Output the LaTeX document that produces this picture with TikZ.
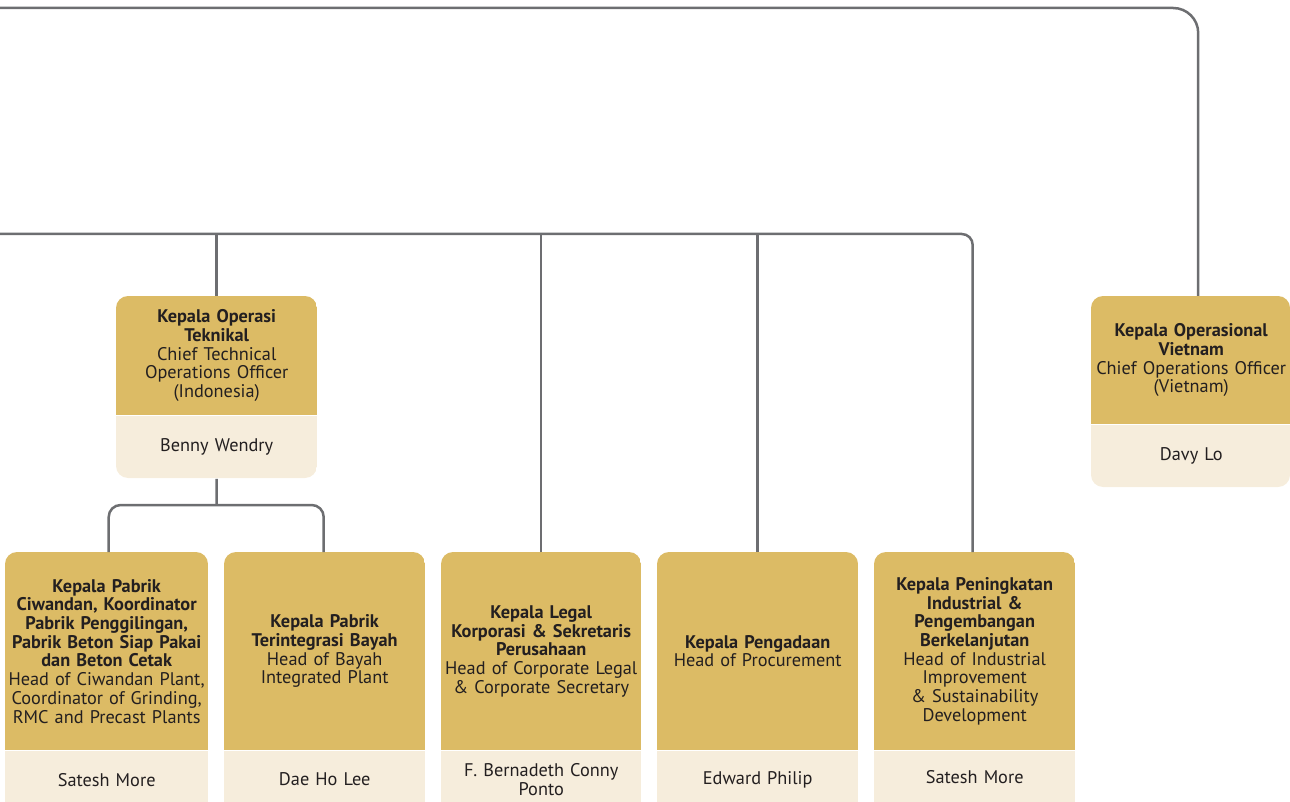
\documentclass[tikz,border=0pt]{standalone}
\usepackage{fontspec}
\setmainfont{PT Sans}
\usetikzlibrary{positioning}
\definecolor{gold}{HTML}{DCBB65}
\definecolor{cream}{HTML}{F6EDDC}
\definecolor{ink}{HTML}{231F20}
\definecolor{wire}{HTML}{6D6E71}
\tikzset{
  head/.style={anchor=north west, fill=gold, text=ink, align=center,
    text width=198pt, inner xsep=1pt, inner ysep=0pt, minimum width=201pt,
    font=\fontsize{18.3}{18.7}\selectfont},
  nameplate/.style={fill=cream, text=ink, align=center,
    text width=198pt, inner xsep=1pt, inner ysep=0pt, minimum width=201pt,
    font=\fontsize{18.3}{18.7}\selectfont},
  link/.style={draw=wire, line width=2.5pt},
}
\begin{document}
\begin{tikzpicture}[x=1pt, y=-1pt]
    \useasboundingbox (0,0) rectangle (1290,802);
    % boxes
    \begin{scope}
      \clip[rounded corners=12pt] (116,296) rectangle ++(201,182);
      \node[head, minimum height=119pt] (cto) at (116,296)
        {{\bfseries Kepala Operasi\\Teknikal}\\Chief Technical\\Operations Officer\\(Indonesia)};
      \node[nameplate, minimum height=63pt, below=0pt of cto] (ctoname) {Benny Wendry};
    \end{scope}
    \begin{scope}
      \clip[rounded corners=12pt] (1091,296) rectangle ++(199,191);
      \node[head, minimum width=199pt, minimum height=128pt] (viet) at (1091,296)
        {{\bfseries Kepala Operasional\\Vietnam}\\Chief Operations Officer\\(Vietnam)};
      \node[nameplate, minimum width=199pt, minimum height=63pt, below=0pt of viet] (vietname) {Davy Lo};
    \end{scope}
    \begin{scope}
      \clip[rounded corners=12pt] (5,552) rectangle ++(203,270);
      \node[head, minimum width=203pt, minimum height=198pt] (ciwandan) at (5,552)
        {{\bfseries Kepala Pabrik\\Ciwandan, Koordinator\\Pabrik Penggilingan,\\Pabrik Beton Siap Pakai\\dan Beton Cetak}\\Head of Ciwandan Plant,\\Coordinator of Grinding,\\RMC and Precast Plants};
      \node[nameplate, minimum width=203pt, minimum height=58pt, below=0pt of ciwandan] (ciwandanname) {Satesh More};
    \end{scope}
    \begin{scope}
      \clip[rounded corners=12pt] (224,552) rectangle ++(201,270);
      \node[head, minimum height=198pt] (bayah) at (224,552)
        {{\bfseries Kepala Pabrik\\Terintegrasi Bayah}\\Head of Bayah\\Integrated Plant};
      \node[nameplate, minimum height=58pt, below=0pt of bayah] (bayahname) {Dae Ho Lee};
    \end{scope}
    \begin{scope}
      \clip[rounded corners=12pt] (441,552) rectangle ++(200,270);
      \node[head, minimum width=200pt, minimum height=198pt] (legal) at (441,552)
        {{\bfseries Kepala Legal\\Korporasi \& Sekretaris\\Perusahaan}\\Head of Corporate Legal\\\& Corporate Secretary};
      \node[nameplate, minimum width=200pt, minimum height=58pt, below=0pt of legal] (legalname) {F. Bernadeth Conny\\Ponto};
    \end{scope}
    \begin{scope}
      \clip[rounded corners=12pt] (657,552) rectangle ++(201,270);
      \node[head, minimum height=198pt] (procure) at (657,552)
        {{\bfseries Kepala Pengadaan}\\Head of Procurement};
      \node[nameplate, minimum height=58pt, below=0pt of procure] (procurename) {Edward Philip};
    \end{scope}
    \begin{scope}
      \clip[rounded corners=12pt] (874,552) rectangle ++(201,270);
      \node[head, minimum height=198pt] (sustain) at (874,552)
        {{\bfseries Kepala Peningkatan\\Industrial \&\\Pengembangan\\Berkelanjutan}\\Head of Industrial\\Improvement\\\& Sustainability\\Development};
      \node[nameplate, minimum height=58pt, below=0pt of sustain] (sustainname) {\raisebox{6pt}{Satesh More}};
    \end{scope}
    % connectors
    \coordinate (topleft) at (0,8);
    \coordinate (busleft) at (0,234);
    \coordinate (split) at (216.5,505);
    \draw[link, rounded corners=25pt] (topleft) -| ([xshift=7pt]viet.north);
    \draw[link, rounded corners=11pt] (busleft) -| ([xshift=-2pt]sustain.north);
    \draw[link] (cto.north) -- (cto.north |- busleft);
    \draw[link] (legal.north) -- (legal.north |- busleft);
    \draw[link] (procure.north) -- (procure.north |- busleft);
    \draw[link] (ctoname.south) -- (split);
    \draw[link, rounded corners=12pt] ([xshift=2pt]ciwandan.north) |- (split) -| ([xshift=-1pt]bayah.north);
\end{tikzpicture}
\end{document}
